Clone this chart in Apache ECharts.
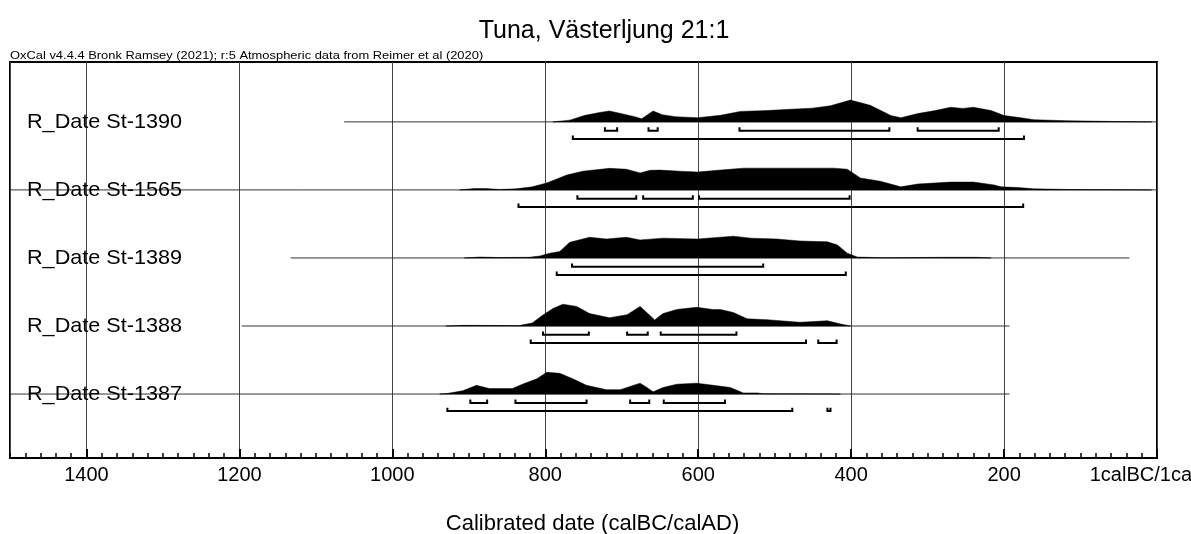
<!DOCTYPE html>
<html>
<head>
<meta charset="utf-8">
<title>Tuna, Västerljung 21:1</title>
<script src="https://cdn.jsdelivr.net/npm/echarts@6/dist/echarts.min.js"></script>
<style>
html, body { margin: 0; padding: 0; background: #fff; }
#chart { width: 1191px; height: 534px; }
</style>
</head>
<body>
<div id="chart"></div>
<script>
// samples, top to bottom
var sampleNames = ['R_Date St-1390', 'R_Date St-1565', 'R_Date St-1389', 'R_Date St-1388', 'R_Date St-1387'];

// extent of the thin base line (calBC)
var lineSpans = [[1063, 0], [1500, 0], [1133, 36], [1197, 193], [1500, 193]];

// probability curves: [calBC, relative height]
var dens1390 = [[790, 0], [768, 0.08], [748, 0.3], [729, 0.43], [716, 0.5], [703, 0.4], [683, 0.24], [674, 0.14],
  [659, 0.5], [647, 0.33], [630, 0.24], [601, 0.19], [571, 0.3], [545, 0.48], [510, 0.52], [479, 0.58], [451, 0.63],
  [427, 0.74], [401, 1.0], [375, 0.76], [348, 0.29], [335, 0.19], [313, 0.38], [290, 0.52], [270, 0.67], [254, 0.62],
  [240, 0.67], [217, 0.52], [200, 0.29], [178, 0.19], [161, 0.1], [116, 0.05], [51, 0.015], [7, 0]];
var dens1565 = [[912, 0], [893, 0.06], [877, 0.06], [860, 0.02], [838, 0.05], [817, 0.14], [798, 0.32], [772, 0.68],
  [751, 0.86], [716, 0.99], [694, 0.95], [676, 0.78], [663, 0.9], [650, 0.91], [624, 0.86], [601, 0.82], [575, 0.9],
  [541, 1.0], [479, 1.0], [423, 1.0], [405, 0.95], [388, 0.55], [362, 0.4], [335, 0.14], [313, 0.27], [270, 0.36],
  [240, 0.36], [213, 0.23], [204, 0.14], [182, 0.11], [161, 0.05], [116, 0.02], [51, 0.01], [7, 0]];
var dens1389 = [[906, 0], [886, 0.04], [860, 0.02], [821, 0.03], [807, 0.09], [794, 0.22], [781, 0.3], [768, 0.72],
  [751, 0.87], [742, 0.95], [720, 0.87], [694, 0.95], [676, 0.83], [646, 0.91], [601, 0.87], [554, 1.0], [531, 0.91],
  [497, 0.87], [467, 0.78], [431, 0.74], [418, 0.6], [405, 0.22], [392, 0.04], [358, 0.01], [276, 0.03], [236, 0.03],
  [217, 0]];
var dens1388 = [[930, 0], [908, 0.03], [834, 0.02], [817, 0.14], [804, 0.48], [790, 0.8], [777, 1.0], [759, 0.9],
  [742, 0.57], [716, 0.38], [693, 0.52], [676, 0.9], [663, 0.48], [657, 0.28], [646, 0.57], [628, 0.76], [602, 0.86],
  [581, 0.76], [571, 0.76], [554, 0.62], [536, 0.33], [510, 0.29], [467, 0.17], [431, 0.24], [415, 0.1], [401, 0]];
var dens1387 = [[938, 0], [929, 0.02], [908, 0.15], [890, 0.4], [873, 0.25], [843, 0.25], [830, 0.45], [811, 0.7],
  [798, 1.0], [781, 0.95], [764, 0.7], [746, 0.4], [720, 0.2], [702, 0.2], [676, 0.5], [667, 0.3], [659, 0.1],
  [646, 0.3], [628, 0.45], [602, 0.5], [580, 0.4], [558, 0.3], [541, 0.05], [523, 0.05], [515, 0.015], [414, 0]];

// highest posterior density ranges (calBC): 68.2% and 95.4%
var hpd68_1390 = [[722, 706], [665, 653], [546, 350], [313, 207]];
var hpd95_1390 = [[764, 174]];
var hpd68_1565 = [[758, 681], [672, 607], [599, 402]];
var hpd95_1565 = [[835, 175]];
var hpd68_1389 = [[765, 515]];
var hpd95_1389 = [[785, 407]];
var hpd68_1388 = [[803, 743], [693, 666], [649, 550]];
var hpd95_1388 = [[819, 459], [443, 419]];
var hpd68_1387 = [[898, 876], [839, 746], [689, 664], [645, 565]];
var hpd95_1387 = [[928, 477], [431, 427]];

var xTicks = [0, 200, 400, 600, 800, 1000, 1200, 1400];

var densities = [dens1390, dens1565, dens1389, dens1388, dens1387];
var hpd68 = [hpd68_1390, hpd68_1565, hpd68_1389, hpd68_1388, hpd68_1387];
var hpd95 = [hpd95_1390, hpd95_1565, hpd95_1389, hpd95_1388, hpd95_1387];

var FONT = '"Liberation Sans", Arial, Helvetica, sans-serif';
var PEAK = 0.32;       // curve height in row units
var ROWTOP = 5.82;     // y extent

function baseOf(i) {
  return sampleNames.length - i - 0.06;
}

function bracket(api, range, y) {
  var a = api.coord([range[0], y]);
  var b = api.coord([range[1], y]);
  var t = api.coord([range[0], y + 0.05])[1];
  return {
    type: 'polyline',
    shape: { points: [[a[0], t], a, b, [b[0], t]] },
    style: { stroke: '#000', lineWidth: 2, fill: null }
  };
}

function renderRow(params, api) {
  var i = params.dataIndex;
  var base = baseOf(i);
  var kids = [];
  var span = lineSpans[i];
  var p0 = api.coord([span[0], base]);
  var p1 = api.coord([span[1], base]);
  kids.push({
    type: 'line',
    shape: { x1: p0[0], y1: p0[1], x2: p1[0], y2: p1[1] },
    style: { stroke: '#333', lineWidth: 1 }
  });
  var d = densities[i];
  var pts = [api.coord([d[0][0], base])];
  d.forEach(function (p) { pts.push(api.coord([p[0], base + p[1] * PEAK])); });
  pts.push(api.coord([d[d.length - 1][0], base]));
  kids.push({ type: 'polygon', shape: { points: pts }, style: { fill: '#000', stroke: '#000', lineWidth: 0.5 } });
  hpd68[i].forEach(function (r) { kids.push(bracket(api, r, base - 0.13)); });
  hpd95[i].forEach(function (r) { kids.push(bracket(api, r, base - 0.25)); });
  var cs = params.coordSys;
  kids.push({
    type: 'text',
    x: cs.x + 17,
    y: p0[1],
    scaleX: 1.03,
    style: { text: sampleNames[i], font: '21px ' + FONT, fill: '#000', verticalAlign: 'middle' }
  });
  return { type: 'group', children: kids };
}

var chart = echarts.init(document.getElementById('chart'));
chart.setOption({
  animation: false,
  backgroundColor: '#fff',
  title: {
    text: 'Tuna, Västerljung 21:1',
    left: 599, top: 14, textAlign: 'center',
    textStyle: { fontFamily: FONT, fontSize: 25, fontWeight: 'normal', color: '#000' }
  },
  graphic: [{
    type: 'text',
    left: 10, top: 51,
    scaleX: 1.29,
    style: {
      text: 'OxCal v4.4.4 Bronk Ramsey (2021); r:5 Atmospheric data from Reimer et al (2020)',
      font: '10px ' + FONT, fill: '#000'
    }
  }],
  grid: {
    left: 10, right: 34, top: 62, bottom: 76,
    outerBoundsMode: 'none',
    show: true, borderColor: '#000', borderWidth: 2, backgroundColor: 'transparent'
  },
  xAxis: [{
    type: 'value', inverse: true, min: 0, max: 1500, interval: 200,
    name: 'Calibrated date (calBC/calAD)', nameLocation: 'middle', nameGap: 55,
    nameTextStyle: { fontFamily: FONT, fontSize: 22, color: '#000', padding: [0, 0, 0, 18] },
    axisLine: { show: true, lineStyle: { color: '#000', width: 2 } },
    axisTick: { show: true, inside: true, length: 9, lineStyle: { color: '#000', width: 2 } },
    splitLine: { show: true, lineStyle: { color: '#444', width: 1 } },
    axisLabel: {
      fontFamily: FONT, fontSize: 20, color: '#000', margin: 7, showMaxLabel: false, hideOverlap: false,
      formatter: function (v) {
        if (xTicks.indexOf(v) < 0) return '';
        return v === 0 ? '1calBC/1calAD' : String(v);
      }
    }
  }, {
    type: 'value', inverse: true, min: 0, max: 1500, interval: 20, position: 'bottom',
    axisLine: { show: false },
    axisTick: { show: true, inside: true, length: 5, lineStyle: { color: '#000', width: 1.5 } },
    axisLabel: { show: false },
    splitLine: { show: false }
  }],
  yAxis: { type: 'value', min: 0, max: ROWTOP, show: false },
  series: [{
    type: 'custom',
    xAxisIndex: 0,
    renderItem: renderRow,
    data: sampleNames.map(function (n, i) { return { name: n, value: [0, baseOf(i)] }; }),
    silent: true
  }]
});
</script>
</body>
</html>
